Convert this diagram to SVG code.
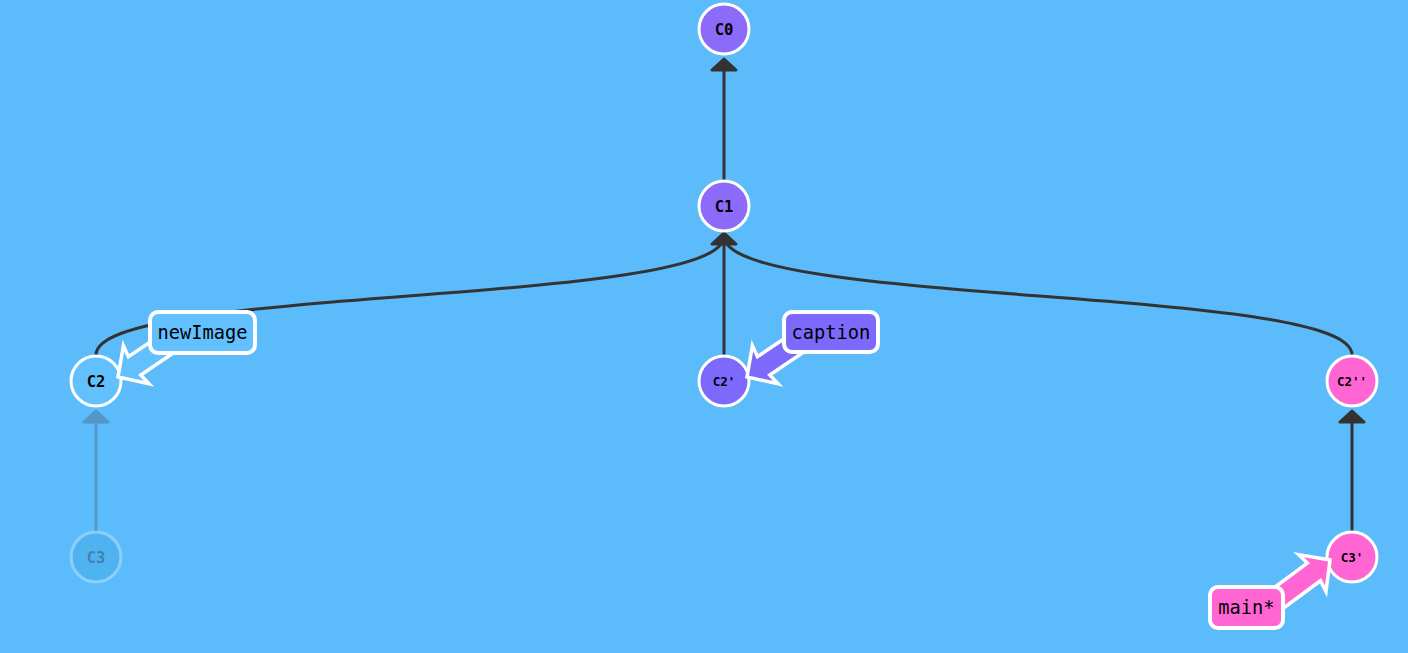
<svg xmlns="http://www.w3.org/2000/svg" width="1408" height="653" viewBox="0 0 1408 653">
<defs>
<style>
.edge{fill:none;stroke:#333333;stroke-width:3;}
.head{fill:#333333;stroke:#333333;stroke-width:3;stroke-linejoin:round;}
.commit{stroke:#ffffff;stroke-width:3;}
.ctext{font-family:"DejaVu Sans Mono","Liberation Mono",monospace;font-weight:bold;fill:#000000;text-anchor:middle;}
.big{font-size:15.5px;}
.small{font-size:12.5px;}
.btext{font-family:"DejaVu Sans Mono","Liberation Mono",monospace;font-size:18.7px;fill:#000000;text-anchor:middle;}
.bbox{stroke:#ffffff;stroke-width:4;}
.barrow{stroke:#ffffff;stroke-width:3.5;stroke-linejoin:miter;}
.purple{fill:#8c6bfa;}
.violet{fill:#7d69fb;}
.pink{fill:#ff66d4;}
.lblue{fill:#63c0fe;}
</style>
<path id="bArrow" d="M0,0 L22,-23 L20,-11 L70,-11 L70,11 L20,11 L22,23 Z"/>
</defs>
<rect x="0" y="0" width="1408" height="653" fill="#5cbbfb"/>

<g id="connectors">
  <path class="edge" d="M724,181 L724,66"/>
  <polygon class="head" points="724,59 736,70 712,70"/>
  <path class="edge" d="M96,355 C96,285 724,307 724,236"/>
  <path class="edge" d="M1352,355 C1352,285 724,307 724,236"/>
  <path class="edge" d="M724,356 L724,242"/>
  <polygon class="head" points="724,233 736,244 712,244"/>
  <g opacity="0.25">
    <path class="edge" d="M96,532 L96,418"/>
    <polygon class="head" points="96,411 108,422 84,422"/>
  </g>
  <path class="edge" d="M1352,532 L1352,418"/>
  <polygon class="head" points="1352,411 1364,422 1340,422"/>
</g>

<g id="C0">
  <circle class="commit purple" cx="724" cy="29" r="25"/>
  <text class="ctext big" x="724" y="34.5">C0</text>
</g>
<g id="C1">
  <circle class="commit purple" cx="724" cy="206" r="25"/>
  <text class="ctext big" x="724" y="211.5">C1</text>
</g>
<g id="C2">
  <circle class="commit lblue" cx="96" cy="381" r="25"/>
  <text class="ctext big" x="96" y="386.5">C2</text>
</g>
<g id="C2p">
  <circle class="commit violet" cx="724" cy="381" r="25"/>
  <text class="ctext small" x="724" y="385.5">C2'</text>
</g>
<g id="C2pp">
  <circle class="commit pink" cx="1352" cy="381" r="25"/>
  <text class="ctext small" x="1352" y="385.5">C2''</text>
</g>
<g id="C3" opacity="0.3">
  <circle class="commit" cx="96" cy="557" r="25" fill="#34a4d8"/>
  <text class="ctext big" x="96" y="562.5">C3</text>
</g>
<g id="C3p">
  <circle class="commit pink" cx="1352" cy="557" r="25"/>
  <text class="ctext small" x="1352" y="561.5">C3'</text>
</g>

<g id="branch-newImage">
  <use href="#bArrow" class="barrow lblue" transform="translate(118 377) rotate(-34)"/>
  <rect class="bbox lblue" x="150" y="312" width="105" height="41" rx="8"/>
  <text class="btext" x="202.5" y="339">newImage</text>
</g>
<g id="branch-caption">
  <use href="#bArrow" class="barrow violet" transform="translate(747 377) rotate(-34)"/>
  <rect class="bbox violet" x="784" y="312" width="94" height="40" rx="8"/>
  <text class="btext" x="831" y="339">caption</text>
</g>
<g id="branch-main">
  <use href="#bArrow" class="barrow pink" transform="translate(1330 560) rotate(143.5)"/>
  <rect class="bbox pink" x="1210" y="587" width="73" height="41" rx="8"/>
  <text class="btext" x="1246.5" y="614">main*</text>
</g>
</svg>
